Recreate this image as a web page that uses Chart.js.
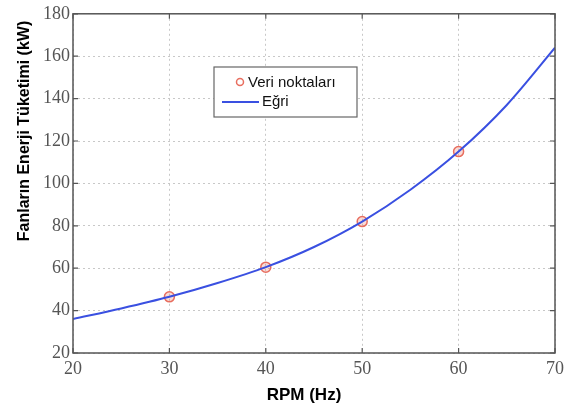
<!DOCTYPE html>
<html>
<head>
<meta charset="utf-8">
<script src="https://cdn.jsdelivr.net/npm/chart.js@4"></script>
<style>
  html, body { margin: 0; padding: 0; background: #fff; }
  #wrap { width: 573px; height: 412px; }
</style>
</head>
<body>
<div id="wrap"><canvas id="myChart"></canvas></div>
<script>
// measured points
const rpm = [30, 40, 50, 60];
const power = [46.5, 60.5, 82, 115];
// fitted curve, every 5 Hz
const curveRpm = [20, 25, 30, 35, 40, 45, 50, 55, 60, 65, 70];
const curvePower = [36, 41, 46.5, 53, 60.5, 70, 82, 97, 115, 137, 164];
const xTicks = [20, 30, 40, 50, 60, 70];
const yTicks = [20, 40, 60, 80, 100, 120, 140, 160, 180];

const xTitle = 'RPM (Hz)';
const yTitle = 'Fanların Enerji Tüketimi (kW)';

const lineColor = 'rgb(58,80,225)';
const dotColor = 'rgb(232,110,95)';
const titleFont = 'bold {s}px "Liberation Sans", Arial, sans-serif';

// frame, inward ticks, axis titles and the boxed legend inside the plot
const frame = {
  id: 'frame',
  afterDraw(chart) {
    const { ctx, chartArea: a, scales } = chart;
    ctx.save();
    ctx.strokeStyle = '#555';
    ctx.lineWidth = 1.5;
    ctx.strokeRect(a.left, a.top, a.right - a.left, a.bottom - a.top);
    ctx.lineWidth = 1.2;
    ctx.beginPath();
    xTicks.forEach(v => {
      const x = scales.x.getPixelForValue(v);
      ctx.moveTo(x, a.bottom); ctx.lineTo(x, a.bottom - 5);
      ctx.moveTo(x, a.top); ctx.lineTo(x, a.top + 5);
    });
    yTicks.forEach(v => {
      const y = scales.y.getPixelForValue(v);
      ctx.moveTo(a.left, y); ctx.lineTo(a.left + 5, y);
      ctx.moveTo(a.right, y); ctx.lineTo(a.right - 5, y);
    });
    ctx.stroke();

    // axis titles (off-centre in the original)
    ctx.fillStyle = '#000';
    ctx.textAlign = 'center';
    ctx.textBaseline = 'middle';
    ctx.font = titleFont.replace('{s}', 17);
    ctx.fillText(xTitle, 304, 395);
    ctx.save();
    ctx.translate(25, 131);
    ctx.rotate(-Math.PI / 2);
    ctx.font = titleFont.replace('{s}', 16);
    ctx.fillText(yTitle, 0, 0);
    ctx.restore();

    // legend box
    const bx = 214, by = 67, bw = 143, bh = 50;
    ctx.fillStyle = '#fff';
    ctx.fillRect(bx, by, bw, bh);
    ctx.strokeStyle = '#666';
    ctx.lineWidth = 1.2;
    ctx.strokeRect(bx, by, bw, bh);

    ctx.strokeStyle = dotColor;
    ctx.lineWidth = 1.5;
    ctx.beginPath();
    ctx.arc(240, 82, 3.5, 0, Math.PI * 2);
    ctx.stroke();

    ctx.strokeStyle = lineColor;
    ctx.lineWidth = 2;
    ctx.beginPath();
    ctx.moveTo(222, 102); ctx.lineTo(259, 102);
    ctx.stroke();

    ctx.fillStyle = '#111';
    ctx.font = '15px "Liberation Sans", Arial, sans-serif';
    ctx.textAlign = 'left';
    ctx.fillText('Veri noktaları', 248, 83);
    ctx.fillText('Eğri', 262, 102);
    ctx.restore();
  }
};

document.addEventListener('DOMContentLoaded', () => {
  const ctx = document.getElementById('myChart').getContext('2d');

  new Chart(ctx, {
    type: 'scatter',
    data: {
      datasets: [
        {
          label: 'Veri noktaları',
          data: rpm.map((x, i) => ({ x: x, y: power[i] })),
          showLine: false,
          pointRadius: 5,
          pointBorderWidth: 1.5,
          pointBorderColor: dotColor,
          pointBackgroundColor: 'rgba(232,110,95,0.25)',
          order: 2
        },
        {
          label: 'Eğri',
          data: curveRpm.map((x, i) => ({ x: x, y: curvePower[i] })),
          showLine: true,
          borderColor: lineColor,
          borderWidth: 2,
          pointRadius: 0,
          cubicInterpolationMode: 'monotone',
          order: 1
        }
      ]
    },
    options: {
      responsive: true,
      maintainAspectRatio: false,
      animation: false,
      layout: { padding: { top: 6, right: 18, left: 0, bottom: 0 } },
      plugins: {
        legend: { display: false },
        tooltip: { enabled: false }
      },
      scales: {
        x: {
          type: 'linear',
          min: 20,
          max: 70,
          afterBuildTicks: s => { s.ticks = xTicks.map(v => ({ value: v })); },
          afterFit: s => { s.height = 59; },
          grid: { color: '#c8c8c8', drawTicks: false },
          border: { display: false, dash: [2, 3] },
          ticks: {
            color: '#555',
            padding: 5,
            font: { family: '"Liberation Serif", "Times New Roman", serif', size: 18 }
          }
        },
        y: {
          min: 20,
          max: 180,
          afterBuildTicks: s => { s.ticks = yTicks.map(v => ({ value: v })); },
          afterFit: s => { s.width = 73; },
          grid: { color: '#c8c8c8', drawTicks: false },
          border: { display: false, dash: [2, 3] },
          ticks: {
            color: '#555',
            padding: 3,
            font: { family: '"Liberation Serif", "Times New Roman", serif', size: 18 }
          }
        }
      }
    },
    plugins: [frame]
  });
});
</script>
</body>
</html>
